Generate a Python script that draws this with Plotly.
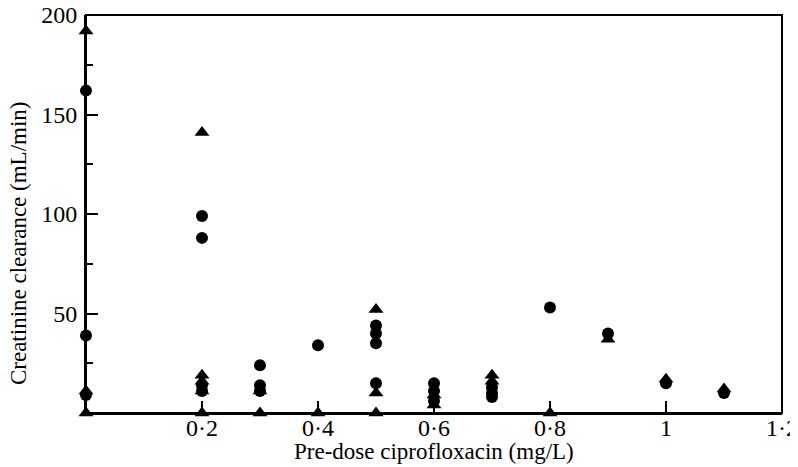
import plotly.graph_objects as go

# Circles (●)
circle_x = [0, 0, 0, 0.2, 0.2, 0.2, 0.2, 0.3, 0.3, 0.3, 0.4, 0.5, 0.5, 0.5, 0.5,
            0.6, 0.6, 0.6, 0.7, 0.7, 0.7, 0.8, 0.9, 1.0, 1.1]
circle_y = [162, 39, 9, 99, 88, 14, 11, 24, 14, 11, 34, 44, 40, 35, 15,
            15, 11, 6, 13, 10, 8, 53, 40, 15, 10]

# Triangles (▲)
tri_x = [0, 0, 0, 0.2, 0.2, 0.2, 0.2, 0.2, 0.3, 0.3, 0.4, 0.5, 0.5, 0.5,
         0.6, 0.6, 0.7, 0.7, 0.8, 0.9, 1.0, 1.1]
tri_y = [192, 11, 0, 141, 19, 16, 11, 0, 11, 0, 0, 52, 10, 0,
         9, 4, 19, 16, 0, 37, 17, 12]

x_tickvals = [0.2, 0.4, 0.6, 0.8, 1.0, 1.2]
x_ticktext = ["0·2", "0·4", "0·6", "0·8", "1", "1·2"]
y_tickvals = [50, 100, 150, 200]
y_ticktext = ["50", "100", "150", "200"]

FONT = "Liberation Serif"
TICK_SIZE = 24
TITLE_SIZE = 23

fig = go.Figure()
fig.add_trace(go.Scatter(x=circle_x, y=circle_y, mode="markers",
                         marker=dict(symbol="circle", size=12, color="black"),
                         cliponaxis=False, showlegend=False))
fig.add_trace(go.Scatter(x=tri_x, y=tri_y, mode="markers",
                         marker=dict(symbol="triangle-up", size=13, color="black"),
                         cliponaxis=False, showlegend=False))

fig.update_layout(
    width=790, height=459,
    margin=dict(l=78, r=16, t=7, b=54),
    paper_bgcolor="white", plot_bgcolor="white",
    font=dict(family=FONT, size=TICK_SIZE, color="black"),
    xaxis=dict(range=[0, 1.2], tickvals=x_tickvals, ticktext=x_ticktext,
               ticks="inside", ticklen=12, tickwidth=2, tickcolor="black",
               showline=True, linewidth=2, linecolor="black",
               showgrid=False, zeroline=False, automargin=False,
               ticklabeloverflow="allow", ticklabelstandoff=-8),
    yaxis=dict(range=[0, 200], tickvals=y_tickvals, ticktext=y_ticktext,
               ticks="inside", ticklen=12, tickwidth=2, tickcolor="black",
               minor=dict(ticks="inside", dtick=25, ticklen=7, tickwidth=2,
                          tickcolor="black", showgrid=False),
               showline=True, linewidth=2, linecolor="black",
               showgrid=False, zeroline=False, ticklabelstandoff=2,
               ticklabeloverflow="allow", automargin=False),
    shapes=[dict(type="rect", xref="paper", yref="paper", x0=0, x1=1, y0=0, y1=1,
                 line=dict(color="black", width=2), layer="above")],
    annotations=[
        dict(text="0", x=-0.031, xref="x", y=0, yref="paper",
             yshift=-18, yanchor="middle", xanchor="center",
             showarrow=False, font=dict(family=FONT, size=TICK_SIZE)),
        dict(text="Pre-dose ciprofloxacin (mg/L)", x=0.5, xref="paper",
             y=0, yref="paper", yshift=-38, yanchor="middle", xanchor="center",
             showarrow=False, font=dict(family=FONT, size=TITLE_SIZE)),
        dict(text="Creatinine clearance (mL/min)", x=0, xref="paper",
             xshift=-68, y=0.427, yref="paper", textangle=-90,
             xanchor="center", yanchor="middle",
             showarrow=False, font=dict(family=FONT, size=TITLE_SIZE)),
    ],
)

fig.write_html("out.html")
